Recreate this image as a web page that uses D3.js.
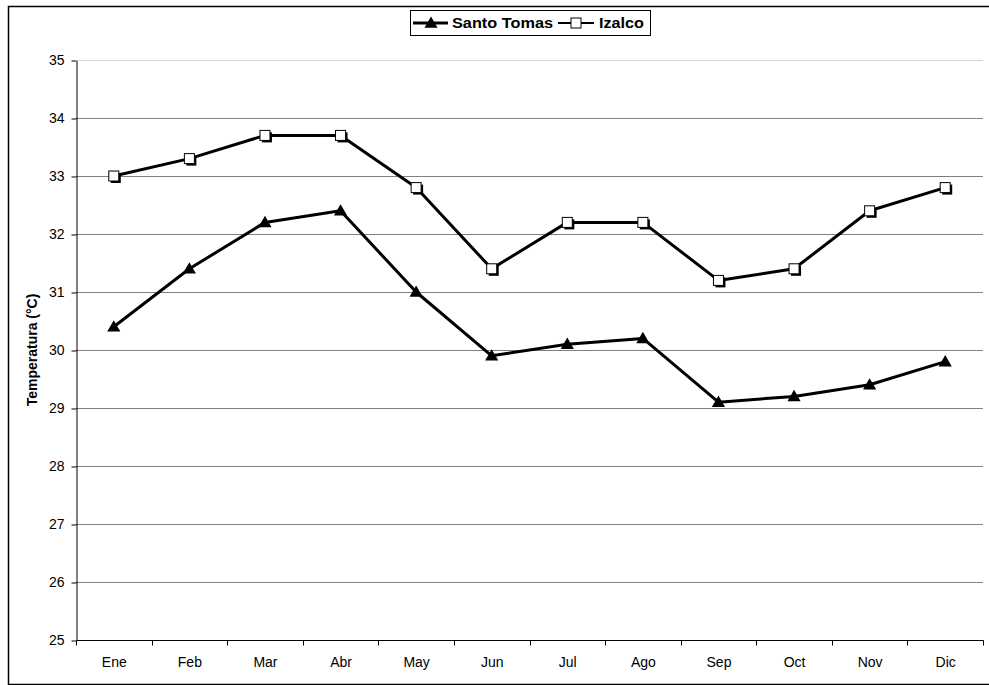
<!DOCTYPE html>
<html>
<head>
<meta charset="utf-8">
<script src="https://cdn.jsdelivr.net/npm/d3@7"></script>
<style>
  html, body { margin: 0; padding: 0; background: #fff; }
  svg { display: block; font-family: Arial, "Liberation Sans", sans-serif; }
</style>
</head>
<body>
<svg id="chart" width="989" height="685"></svg>
<script>
// Monthly mean maximum temperature (°C) for two stations
const months = ["Ene", "Feb", "Mar", "Abr", "May", "Jun", "Jul", "Ago", "Sep", "Oct", "Nov", "Dic"];
const santoTomas = [30.4, 31.4, 32.2, 32.4, 31.0, 29.9, 30.1, 30.2, 29.1, 29.2, 29.4, 29.8];
const izalco = [33.0, 33.3, 33.7, 33.7, 32.8, 31.4, 32.2, 32.2, 31.2, 31.4, 32.4, 32.8];
const yTicks = [25, 26, 27, 28, 29, 30, 31, 32, 33, 34, 35];
const seriesNames = ["Santo Tomas", "Izalco"];

const FONT = "Arial, 'Liberation Sans', sans-serif";
const svg = d3.select("#chart");
const plot = { left: 76, right: 983, top: 60, bottom: 640 };

// outer frame
svg.append("rect")
  .attr("x", 8.5).attr("y", 6.5)
  .attr("width", 1000).attr("height", 678)
  .attr("fill", "none").attr("stroke", "#000").attr("stroke-width", 1.5);

const x = d3.scaleBand().domain(months).range([plot.left, plot.right]).padding(0);
const y = d3.scaleLinear().domain([25, 35]).range([plot.bottom, plot.top]);

// horizontal gridlines
svg.append("g").selectAll("line")
  .data(yTicks.filter(t => t > 25))
  .join("line")
  .attr("x1", plot.left).attr("x2", plot.right)
  .attr("y1", d => Math.round(y(d)) + 0.5).attr("y2", d => Math.round(y(d)) + 0.5)
  .attr("stroke", d => d === 35 ? "#d4d4d4" : "#808080")
  .attr("stroke-width", 1);

// y axis
const yAxis = svg.append("g")
  .attr("transform", `translate(${plot.left + 0.5},0.5)`)
  .call(d3.axisLeft(y).tickValues(yTicks).tickSize(5).tickPadding(7).tickSizeOuter(0));
yAxis.select(".domain").attr("stroke", "#000");
yAxis.selectAll(".tick line").attr("stroke", "#000");
yAxis.selectAll(".tick text").attr("font-size", 14).attr("fill", "#000")
  .attr("font-family", FONT);

// x axis with ticks at category boundaries
const xAxis = svg.append("g")
  .attr("transform", `translate(0.5,${plot.bottom + 0.5})`)
  .call(d3.axisBottom(x).tickSize(0).tickSizeOuter(0));
xAxis.select(".domain").attr("stroke", "#000").attr("d", `M${plot.left},0H${plot.right}`);
xAxis.selectAll(".tick text").attr("font-size", 14).attr("fill", "#000")
  .attr("font-family", FONT).attr("y", 26).attr("dy", 0);
const boundaries = months.map(m => x(m)).concat([x(months[months.length - 1]) + x.bandwidth()]);
xAxis.append("g").selectAll("line")
  .data(boundaries)
  .join("line")
  .attr("x1", d => Math.round(d)).attr("x2", d => Math.round(d))
  .attr("y1", 0).attr("y2", 5)
  .attr("stroke", "#000");

// y axis title
svg.append("text")
  .attr("transform", `translate(37,${(plot.top + plot.bottom) / 2}) rotate(-90)`)
  .attr("text-anchor", "middle")
  .attr("font-size", 14).attr("font-weight", "bold")
  .text("Temperatura (°C)");

const cx = m => x(m) + x.bandwidth() / 2;
const line = d3.line().x((d, i) => cx(months[i])).y(d => y(d));
const tri = d3.symbol().type(d3.symbolTriangle).size(75);

// Izalco series
svg.append("path").datum(izalco)
  .attr("d", line).attr("fill", "none")
  .attr("stroke", "#000").attr("stroke-width", 3).attr("stroke-linejoin", "round");
const sq = 10;
const izG = svg.append("g");
izG.selectAll("rect.shadow").data(izalco).join("rect").attr("class", "shadow")
  .attr("x", (d, i) => cx(months[i]) - sq / 2 + 2).attr("y", d => y(d) - sq / 2 + 2)
  .attr("width", sq).attr("height", sq).attr("fill", "#000");
izG.selectAll("rect.mark").data(izalco).join("rect").attr("class", "mark")
  .attr("x", (d, i) => cx(months[i]) - sq / 2).attr("y", d => y(d) - sq / 2)
  .attr("width", sq).attr("height", sq)
  .attr("fill", "#fff").attr("stroke", "#000").attr("stroke-width", 1);

// Santo Tomas series
svg.append("path").datum(santoTomas)
  .attr("d", line).attr("fill", "none")
  .attr("stroke", "#000").attr("stroke-width", 3).attr("stroke-linejoin", "round");
svg.append("g").selectAll("path").data(santoTomas).join("path")
  .attr("transform", (d, i) => `translate(${cx(months[i])},${y(d) + 1})`)
  .attr("d", tri).attr("fill", "#000");

// legend
const lg = svg.append("g");
lg.append("rect").attr("x", 410.5).attr("y", 10.5).attr("width", 240).attr("height", 25)
  .attr("fill", "#fff").attr("stroke", "#000").attr("stroke-width", 1);
lg.append("line").attr("x1", 413).attr("x2", 448).attr("y1", 23).attr("y2", 23)
  .attr("stroke", "#000").attr("stroke-width", 3);
lg.append("path").attr("transform", "translate(431,24)").attr("d", tri).attr("fill", "#000");
lg.append("text").attr("x", 452).attr("y", 28).attr("font-size", 14).attr("font-weight", "bold")
  .attr("textLength", 101).attr("lengthAdjust", "spacingAndGlyphs")
  .text(seriesNames[0]);
lg.append("line").attr("x1", 558).attr("x2", 594).attr("y1", 23).attr("y2", 23)
  .attr("stroke", "#000").attr("stroke-width", 2);
lg.append("rect").attr("x", 571).attr("y", 18).attr("width", 10).attr("height", 10)
  .attr("fill", "#fff").attr("stroke", "#000");
lg.append("text").attr("x", 599).attr("y", 28).attr("font-size", 14).attr("font-weight", "bold")
  .attr("textLength", 45).attr("lengthAdjust", "spacingAndGlyphs")
  .text(seriesNames[1]);
</script>
</body>
</html>
